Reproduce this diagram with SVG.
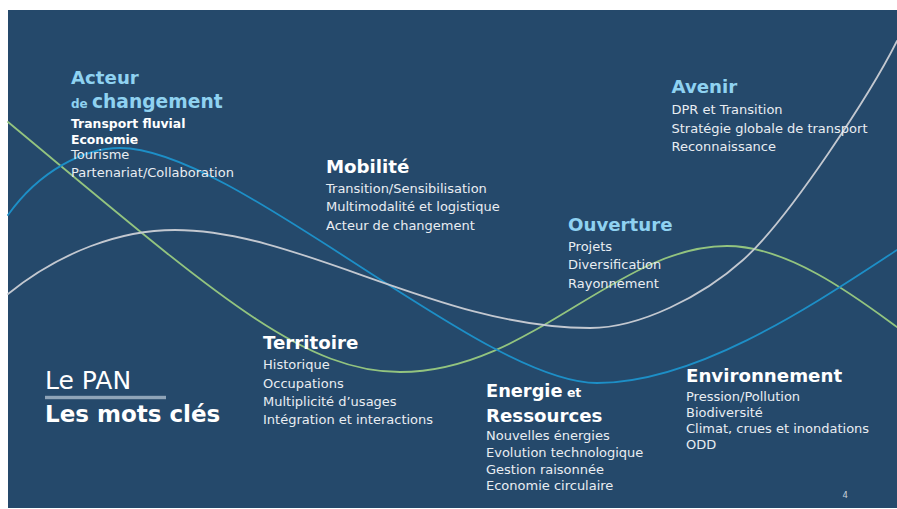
<svg xmlns="http://www.w3.org/2000/svg" width="897" height="509" viewBox="0 0 897 509">
  <style>
    text { font-family: "DejaVu Sans", "Liberation Sans", sans-serif; }
    .h { font-weight: bold; font-size: 18.2px; }
    .hb { fill: #8fd2f1; }
    .hw { fill: #ffffff; }
    .b { font-size: 13px; fill: #e9edf2; }
    .bb { font-size: 12.4px; fill: #ffffff; font-weight: bold; }
    .curve { fill: none; stroke-width: 1.8; stroke-linecap: round; }
  </style>
  <rect x="0" y="0" width="897" height="509" fill="#ffffff"/>
  <rect x="8" y="10" width="889" height="498" fill="#25496b"/>

  <g id="curves">
    <path class="curve" stroke="#93c47f" d="M8,122 C208,288 300,372 400,372 C530,372 617,246 727,246 C790,246 860,300 897,327"/>
    <path class="curve" stroke="#1d8fc7" d="M8,215 C40,170 85,148 120,148 C235,148 482,383 597,383 C700,383 820,300 897,250"/>
    <path class="curve" stroke="#c3c8d0" d="M8,294 C60,252 120,230 175,230 C300,230 439,328 590,328 C640,328 703,296 743,260 C790,218 872,91 897,41"/>
  </g>

  <g id="acteur">
    <text class="h hb" x="71" y="83.5">Acteur</text>
    <text x="71" y="108" class="hb" font-weight="bold"><tspan font-size="12px">de </tspan><tspan font-size="18.7px">changement</tspan></text>
    <text class="bb" x="71" y="127.5">Transport fluvial</text>
    <text class="bb" x="71" y="143.5">Economie</text>
    <text class="b" x="71" y="158.7">Tourisme</text>
    <text class="b" x="71" y="176.5">Partenariat/Collaboration</text>
  </g>

  <g id="mobilite">
    <text class="h hw" x="326" y="172.5">Mobilité</text>
    <text class="b" x="326" y="192.7">Transition/Sensibilisation</text>
    <text class="b" x="326" y="211">Multimodalité et logistique</text>
    <text class="b" x="326" y="229.5">Acteur de changement</text>
  </g>

  <g id="avenir">
    <text class="h hb" x="671.5" y="93.3">Avenir</text>
    <text class="b" x="671.5" y="114">DPR et Transition</text>
    <text class="b" x="671.5" y="132.5">Stratégie globale de transport</text>
    <text class="b" x="671.5" y="150.8">Reconnaissance</text>
  </g>

  <g id="ouverture">
    <text class="h hb" x="568" y="230.5">Ouverture</text>
    <text class="b" x="568" y="250.5">Projets</text>
    <text class="b" x="568" y="269">Diversification</text>
    <text class="b" x="568" y="287.5">Rayonnement</text>
  </g>

  <g id="territoire">
    <text class="h hw" x="263" y="349.3">Territoire</text>
    <text class="b" x="263" y="369.3">Historique</text>
    <text class="b" x="263" y="387.7">Occupations</text>
    <text class="b" x="263" y="406">Multiplicité d’usages</text>
    <text class="b" x="263" y="423.5">Intégration et interactions</text>
  </g>

  <g id="le-pan">
    <text x="45" y="389.3" font-size="25px" fill="#ffffff">Le PAN</text>
    <rect x="45" y="395.8" width="121" height="3.4" fill="#8fa4b8"/>
    <text x="45" y="421.7" font-size="23px" font-weight="bold" fill="#ffffff">Les mots clés</text>
  </g>

  <g id="energie">
    <text x="486" y="396.7" class="hw" font-weight="bold"><tspan font-size="17.8px">Energie</tspan><tspan font-size="12.5px"> et</tspan></text>
    <text class="h hw" x="486" y="421.7">Ressources</text>
    <text class="b" x="486" y="440">Nouvelles énergies</text>
    <text class="b" x="486" y="457">Evolution technologique</text>
    <text class="b" x="486" y="473.5">Gestion raisonnée</text>
    <text class="b" x="486" y="490">Economie circulaire</text>
  </g>

  <g id="environnement">
    <text class="h hw" x="686" y="382.3">Environnement</text>
    <text class="b" x="686" y="400.7">Pression/Pollution</text>
    <text class="b" x="686" y="416.5">Biodiversité</text>
    <text class="b" x="686" y="433.3">Climat, crues et inondations</text>
    <text class="b" x="686" y="449.3">ODD</text>
  </g>

  <text id="page-number" x="842.5" y="498" font-size="8.5px" fill="#c9d1da">4</text>
</svg>
